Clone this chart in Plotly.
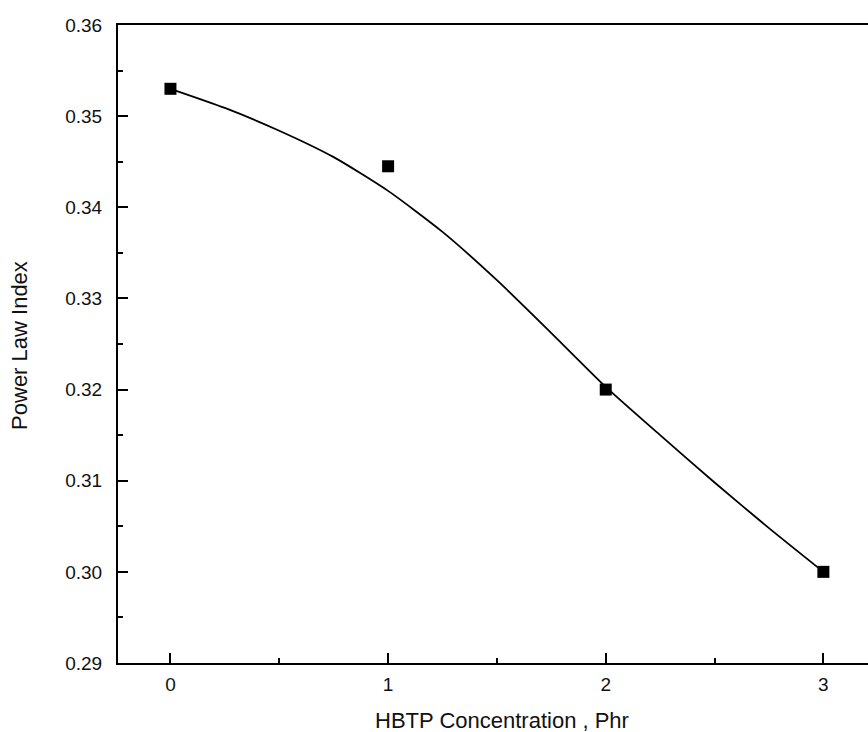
import plotly.graph_objects as go

# Measured data points
conc = [0, 1, 2, 3]
power_index = [0.353, 0.3445, 0.320, 0.300]

# Fitted curve
curve_x = [0, 0.25, 0.5, 0.75, 1.0, 1.25, 1.5, 1.75, 2.0, 2.25, 2.5, 2.75, 3.0]
curve_y = [0.3530, 0.3509, 0.3484, 0.3455, 0.3418, 0.3373, 0.3320, 0.3262, 0.3203,
           0.3150, 0.3098, 0.3048, 0.3000]

x_ticks = [0, 1, 2, 3]
y_ticks = [0.29, 0.30, 0.31, 0.32, 0.33, 0.34, 0.35, 0.36]

FONT = "Liberation Sans, Arial, sans-serif"

fig = go.Figure()
fig.add_trace(go.Scatter(x=curve_x, y=curve_y, mode="lines",
                         line=dict(color="black", width=1.8, shape="spline", smoothing=0.6),
                         showlegend=False, hoverinfo="skip"))
fig.add_trace(go.Scatter(x=conc, y=power_index, mode="markers",
                         marker=dict(symbol="square", size=12, color="black"),
                         showlegend=False))

fig.update_layout(
    width=868, height=732,
    margin=dict(l=118, r=0, t=25, b=69),
    paper_bgcolor="white", plot_bgcolor="white",
    font=dict(family=FONT, color="#111"),
    xaxis=dict(range=[-0.241, 3.205], tickvals=x_ticks, ticktext=[str(v) for v in x_ticks],
               ticks="inside", ticklen=10, tickwidth=1.5, tickcolor="black",
               minor=dict(dtick=0.5, ticks="inside", ticklen=5, tickwidth=1.5, tickcolor="black"),
               showline=True, linecolor="black", linewidth=2, mirror=True,
               showgrid=False, zeroline=False, tickfont=dict(size=19, family=FONT),
               ticklabelstandoff=3),
    yaxis=dict(range=[0.29, 0.36], tickvals=y_ticks, ticktext=[f"{v:.2f}" for v in y_ticks],
               ticks="inside", ticklen=10, tickwidth=1.5, tickcolor="black",
               minor=dict(dtick=0.005, ticks="inside", ticklen=5, tickwidth=1.5, tickcolor="black"),
               showline=True, linecolor="black", linewidth=2,
               showgrid=False, zeroline=False, tickfont=dict(size=19, family=FONT),
               ticklabelstandoff=10),
    annotations=[
        dict(text="HBTP Concentration , Phr", xref="paper", yref="paper",
             x=(502 - 118) / 750, y=0, yshift=-57, xanchor="center", yanchor="middle",
             showarrow=False, font=dict(size=22, family=FONT, color="#111")),
        dict(text="Power Law Index", xref="paper", yref="paper",
             x=0, xshift=-98, y=0.497, xanchor="center", yanchor="middle",
             textangle=-90, showarrow=False, font=dict(size=22, family=FONT, color="#111")),
    ],
)

fig.write_html("out.html", config={"displayModeBar": False},
               post_script="document.body.style.margin='0';document.body.style.overflow='hidden';")
